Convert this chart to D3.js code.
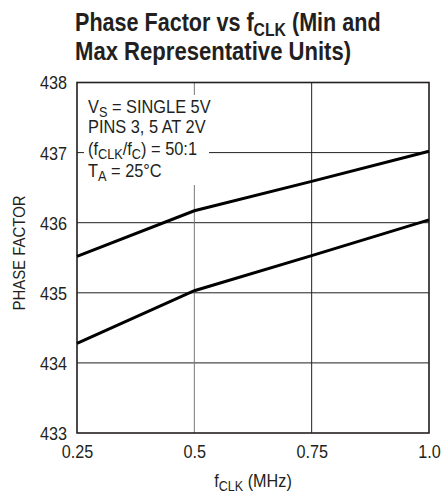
<!DOCTYPE html>
<html><head><meta charset="utf-8">
<script src="https://cdn.jsdelivr.net/npm/d3@7"></script>
<style>
body{margin:0;background:#fff;}
svg text{font-family:"Liberation Sans Narrow","Arial Narrow","Liberation Sans",sans-serif;fill:#231f20;}
</style></head><body>
<svg id="c" width="442" height="498"></svg>
<script>
const xTicks = [0.25, 0.5, 0.75, 1.0];
const xTickLabels = ["0.25", "0.5", "0.75", "1.0"];
const yTicks = [433, 434, 435, 436, 437, 438];
const fclk = [0.25, 0.5, 0.75, 1.0];
const maxUnit = [435.52, 436.17, 436.59, 437.02];
const minUnit = [434.28, 435.03, 435.53, 436.04];

const svg = d3.select("#c");
const m = {l:77, r:429, t:82.5, b:433};
const x = d3.scaleLinear().domain([0.25, 1.0]).range([m.l, m.r]);
const y = d3.scaleLinear().domain([433, 438]).range([m.b, m.t]);

// helper: condensed text group
function cgroup(x0, y0, s){
  return svg.append("g").attr("transform", `translate(${x0},${y0}) scale(${s},1)`);
}

// title
const tg1 = cgroup(75, 31, 0.83);
const title = tg1.append("text").style("font-size","26px").style("font-weight","bold");
title.append("tspan").text("Phase Factor vs f");
title.append("tspan").text("CLK").attr("dy", 5).style("font-size","19px");
title.append("tspan").text(" (Min and").attr("dy", -5);
cgroup(75, 60, 0.85).append("text")
  .style("font-size","26px").style("font-weight","bold")
  .text("Max Representative Units)");

// grid
const g = svg.append("g");
g.selectAll("line.h").data(yTicks.slice(1, -1)).join("line")
  .attr("x1", m.l).attr("x2", m.r).attr("y1", d=>y(d)).attr("y2", d=>y(d))
  .attr("stroke", "#231f20").attr("stroke-width", 1);
g.selectAll("line.v").data(xTicks.slice(1, -1)).join("line")
  .attr("y1", m.t).attr("y2", m.b).attr("x1", d=>x(d)).attr("x2", d=>x(d))
  .attr("stroke", d => d === 0.5 ? "#777" : "#231f20").attr("stroke-width", 1);

// annotation box background
g.append("rect").attr("x", 84).attr("y", 95).attr("width", 125).attr("height", 90).attr("fill", "#fff");

// frame
svg.append("rect").attr("x", m.l).attr("y", m.t).attr("width", m.r-m.l).attr("height", m.b-m.t)
  .attr("fill","none").attr("stroke","#231f20").attr("stroke-width",1.6);

// axes labels via d3 axes
const ya = svg.append("g").attr("transform", `translate(${m.l},0)`)
  .call(d3.axisLeft(y).tickValues(yTicks).tickSize(0).tickPadding(11).tickFormat(d3.format("d")));
ya.select(".domain").remove();
ya.selectAll("text").style("font-size","18px").attr("font-family", null).attr("dy","0.36em")
  .attr("transform","scale(0.9,1)");

const xa = svg.append("g").attr("transform", `translate(0,${m.b})`)
  .call(d3.axisBottom(x).tickValues(xTicks).tickSize(0).tickPadding(12).tickFormat((d,i)=>xTickLabels[i]));
xa.select(".domain").remove();
xa.selectAll("text").style("font-size","18px").attr("font-family", null).attr("transform","scale(0.9,1)");

// axis titles
const xt = cgroup(253, 487, 0.9).append("text").attr("text-anchor","middle").style("font-size","18px");
xt.append("tspan").text("f");
xt.append("tspan").text("CLK").attr("dy",4).style("font-size","14px");
xt.append("tspan").text(" (MHz)").attr("dy",-4);

svg.append("g").attr("transform","translate(25,253) rotate(-90) scale(0.88,1)")
  .append("text").attr("text-anchor","middle").style("font-size","17px").text("PHASE FACTOR");

// annotation
const ann = cgroup(88, 0, 0.91).style("font-size","18px");
function line(yy, parts){
  const t = ann.append("text").attr("x", 0).attr("y", yy);
  parts.forEach(p=>{
    const s = t.append("tspan").text(p[0]);
    if(p[1]==="sub") s.attr("dy",4).style("font-size","14px");
    else if(p[1]==="up") s.attr("dy",-4);
  });
}
line(113, [["V"],["S","sub"],[" = SINGLE 5V","up"]]);
line(133, [["PINS 3, 5 AT 2V"]]);
line(155, [["(f"],["CLK","sub"],["/f","up"],["C","sub"],[") = 50:1","up"]]);
line(177, [["T"],["A","sub"],[" = 25°C","up"]]);

// data lines
const ln = d3.line().x((d,i)=>x(fclk[i])).y(d=>y(d));
[maxUnit, minUnit].forEach(s=>{
  svg.append("path").attr("d", ln(s)).attr("fill","none").attr("stroke","#000").attr("stroke-width",3);
});
</script></body></html>
